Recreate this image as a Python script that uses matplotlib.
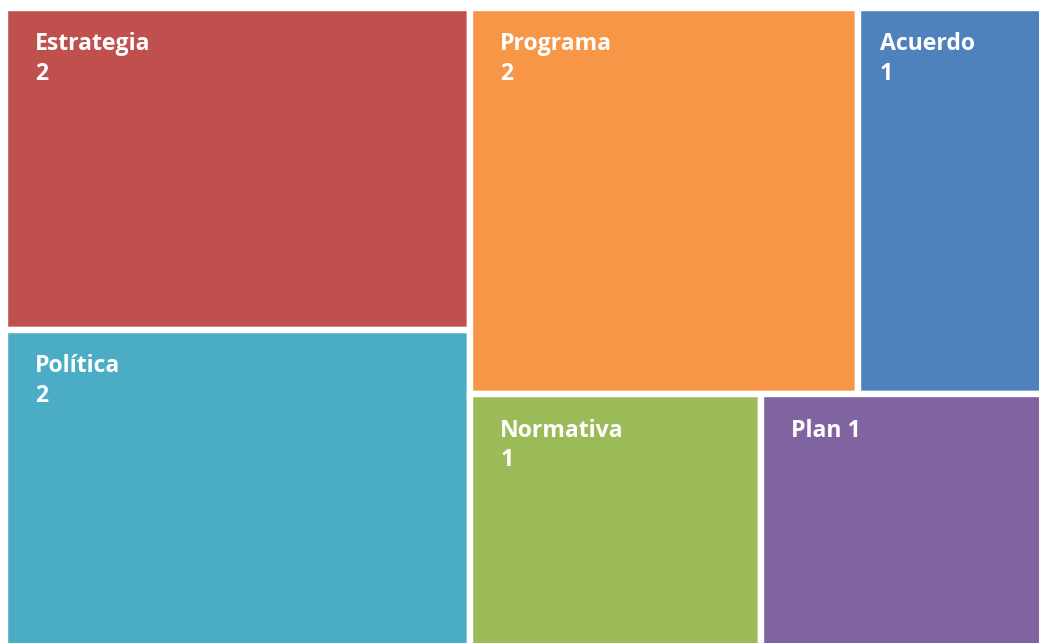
import matplotlib.pyplot as plt
from matplotlib.patches import Rectangle

# Document counts by type
categories = ['Estrategia', 'Política', 'Programa', 'Acuerdo', 'Normativa', 'Plan']
counts = [2, 2, 2, 1, 1, 1]
colors = ['#C0504D', '#4BACC6', '#F79646', '#4F81BD', '#9BBB59', '#8064A2']
label_sep = ['\n', '\n', '\n', '\n', '\n', ' ']


def worst(row, side):
    s = sum(row)
    return max(max(side * side * r / (s * s), s * s / (side * side * r)) for r in row)


def squarify(areas, x, y, w, h):
    # classic squarified treemap layout
    rects = []
    areas = list(areas)
    while areas:
        side = min(w, h)
        row = [areas.pop(0)]
        while areas and worst(row + [areas[0]], side) <= worst(row, side):
            row.append(areas.pop(0))
        s = sum(row)
        if w >= h:
            cw = s / h
            yy = y
            for a in row:
                rects.append((x, yy, cw, a / cw))
                yy += a / cw
            x += cw
            w -= cw
        else:
            rh = s / w
            xx = x
            for a in row:
                rects.append((xx, y, a / rh, rh))
                xx += a / rh
            y += rh
            h -= rh
    return rects


width, height = 1039, 643
x0, y0, tw, th = 5, 8, 1047, 644
total = sum(counts)
areas = [c / total * tw * th for c in counts]
rects = squarify(areas, x0, y0, tw, th)

fig = plt.figure(figsize=(width / 100, height / 100), dpi=100)
ax = fig.add_axes([0, 0, 1, 1])
ax.set_xlim(0, width)
ax.set_ylim(height, 0)
ax.axis('off')

gap = 3  # half of the white gap between tiles, px
for (x, y, w, h), name, val, col, sep in zip(rects, categories, counts, colors, label_sep):
    ax.add_patch(Rectangle((x, y), w, h, facecolor=col, edgecolor='white', linewidth=4.6))
    pad = min(27, 0.1 * (w - 2 * gap))
    ax.text(x + gap + pad, y + gap + 21.5, f'{name}{sep}{val}', color='white',
            fontsize=16.6, fontweight='bold', family='Open Sans',
            ha='left', va='top', linespacing=1.3)

fig.savefig('out.png', dpi=100, facecolor='white')
